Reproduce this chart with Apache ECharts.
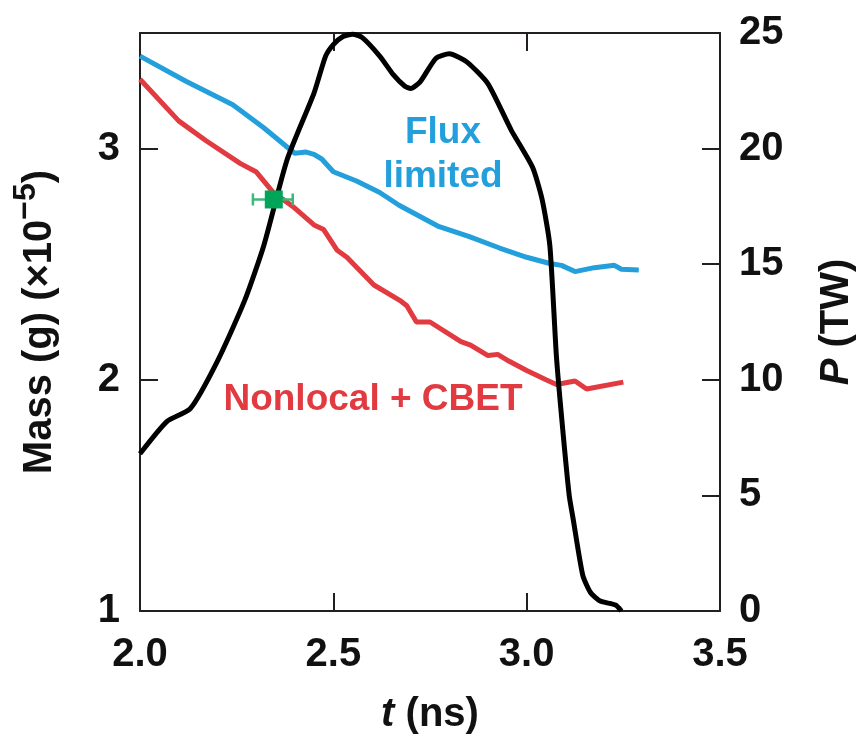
<!DOCTYPE html>
<html>
<head>
<meta charset="utf-8">
<script src="https://cdn.jsdelivr.net/npm/echarts@6/dist/echarts.min.js"></script>
<style>html,body{margin:0;padding:0;background:#fff;}#c{width:865px;height:740px;}</style>
</head>
<body>
<div id="c"></div>
<script>
// Time axis ticks (ns)
const xTicks = [2.0, 2.5, 3.0, 3.5];
// Mass (g) x1e-5 — Flux limited
const fluxLimited = [[2.0,3.40],[2.12,3.29],[2.24,3.19],[2.32,3.09],[2.40,2.98],[2.43,2.985],[2.45,2.975],[2.47,2.955],[2.50,2.90],[2.56,2.86],[2.62,2.81],[2.67,2.755],[2.77,2.665],[2.85,2.62],[2.93,2.57],[3.00,2.53],[3.06,2.503],[3.09,2.495],[3.125,2.468],[3.175,2.485],[3.227,2.495],[3.245,2.478],[3.29,2.475]];
// Mass (g) x1e-5 — Nonlocal + CBET
const nonlocalCBET = [[2.0,3.30],[2.10,3.12],[2.17,3.035],[2.26,2.935],[2.30,2.90],[2.345,2.81],[2.395,2.75],[2.45,2.67],[2.475,2.65],[2.51,2.56],[2.535,2.53],[2.605,2.41],[2.675,2.34],[2.69,2.32],[2.715,2.25],[2.75,2.25],[2.83,2.165],[2.855,2.15],[2.90,2.105],[2.925,2.11],[2.955,2.08],[3.00,2.04],[3.05,2.0],[3.077,1.98],[3.125,1.995],[3.155,1.96],[3.25,1.99]];
// Laser power P (TW)
const power = [[2.0,6.8],[2.07,8.2],[2.13,8.75],[2.2,10.8],[2.27,13.4],[2.32,15.8],[2.38,19.5],[2.45,22.4],[2.48,24.0],[2.50,24.5],[2.525,24.85],[2.55,24.95],[2.575,24.8],[2.62,24.0],[2.655,23.2],[2.685,22.7],[2.70,22.6],[2.725,22.9],[2.765,23.9],[2.80,24.1],[2.845,23.75],[2.90,22.8],[2.96,20.8],[3.015,19.2],[3.04,17.8],[3.06,15.8],[3.077,11.0],[3.093,7.9],[3.11,5.0],[3.12,4.0],[3.145,1.55],[3.165,0.8],[3.19,0.43],[3.23,0.26],[3.245,0]];
// Measured point: [t, mass, tLow, tHigh]
const measured = [[2.346, 2.78, 2.292, 2.395]];

const FONT = 'Liberation Sans';
const AX = '#231f20';
const FS = 40;
const chart = echarts.init(document.getElementById('c'));
const axisLine = {show:true, lineStyle:{color:AX, width:2}};
const ticks = {show:true, inside:true, length:18, lineStyle:{color:AX, width:2}};
chart.setOption({
  animation:false,
  grid:{left:140, right:144, top:33, bottom:127},
  xAxis:[{
    type:'value', min:2.0, max:3.5, interval:0.5, position:'bottom',
    axisLine, axisTick:ticks, splitLine:{show:false},
    axisLabel:{fontFamily:FONT, fontWeight:'bold', fontSize:FS, color:'#111', margin:24,
      formatter:v=>v.toFixed(1)},
    name:'{i|t}{n| (ns)}', nameLocation:'middle', nameGap:84,
    nameTextStyle:{rich:{
      i:{fontFamily:FONT, fontWeight:'bold', fontStyle:'italic', fontSize:FS, color:'#111'},
      n:{fontFamily:FONT, fontWeight:'bold', fontSize:FS, color:'#111'}}}
  },{
    type:'value', min:2.0, max:3.5, interval:0.5, position:'top',
    axisLine, axisTick:ticks, axisLabel:{show:false}, splitLine:{show:false}
  }],
  yAxis:[{
    type:'value', min:1, max:3.5, interval:1, position:'left',
    axisLine, axisTick:ticks, splitLine:{show:false},
    axisLabel:{fontFamily:FONT, fontWeight:'bold', fontSize:FS, color:'#111', margin:20,
      formatter:v=>Number.isInteger(v)?String(v):''},
    name:'{n|Mass (g) (×10}{s|−5}{n|)}', nameLocation:'middle', nameGap:80, nameRotate:90,
    nameTextStyle:{rich:{
      n:{fontFamily:FONT, fontWeight:'bold', fontSize:FS, color:'#111', lineHeight:50, verticalAlign:'bottom'},
      s:{fontFamily:FONT, fontWeight:'bold', fontSize:32, color:'#111', lineHeight:50, verticalAlign:'top'}}}
  },{
    type:'value', min:0, max:25, interval:5, position:'right',
    axisLine, axisTick:ticks, splitLine:{show:false},
    axisLabel:{fontFamily:FONT, fontWeight:'bold', fontSize:FS, color:'#111', margin:19},
    name:'{i|P}{n| (TW)}', nameLocation:'middle', nameGap:97, nameRotate:90,
    nameTextStyle:{rich:{
      i:{fontFamily:FONT, fontWeight:'bold', fontStyle:'italic', fontSize:FS, color:'#111'},
      n:{fontFamily:FONT, fontWeight:'bold', fontSize:FS, color:'#111'}}}
  }],
  series:[
    {type:'line', data:fluxLimited, xAxisIndex:0, yAxisIndex:0, showSymbol:false,
      lineStyle:{color:'#23a0db', width:5}, z:2},
    {type:'line', data:nonlocalCBET, xAxisIndex:0, yAxisIndex:0, showSymbol:false,
      lineStyle:{color:'#e13b41', width:5}, z:2},
    {type:'line', data:power, xAxisIndex:0, yAxisIndex:1, showSymbol:false, smooth:0.2,
      lineStyle:{color:'#000', width:5}, z:3},
    {type:'custom', data:measured, xAxisIndex:0, yAxisIndex:0, z:4,
      encode:{x:[0,2,3], y:1},
      renderItem:function(params, api){
        const y = api.value(1);
        const lo = api.coord([api.value(2), y]);
        const hi = api.coord([api.value(3), y]);
        const st = {stroke:'#3cb878', lineWidth:2.5};
        return {type:'group', children:[
          {type:'line', shape:{x1:lo[0], y1:lo[1], x2:hi[0], y2:hi[1]}, style:st},
          {type:'line', shape:{x1:lo[0], y1:lo[1]-6, x2:lo[0], y2:lo[1]+6}, style:st},
          {type:'line', shape:{x1:hi[0], y1:hi[1]-6, x2:hi[0], y2:hi[1]+6}, style:st}
        ]};
      }},
    {type:'scatter', data:measured.map(d=>[d[0], d[1]]), xAxisIndex:0, yAxisIndex:0,
      symbol:'rect', symbolSize:18, itemStyle:{color:'#00a55a', opacity:1}, z:5}
  ],
  graphic:[
    {type:'text', style:{text:'Flux\nlimited', x:443, y:155, align:'center', verticalAlign:'middle',
      font:'bold 37px "Liberation Sans"', fill:'#23a0db', lineHeight:44}},
    {type:'text', style:{text:'Nonlocal + CBET', x:373, y:400, align:'center', verticalAlign:'middle',
      font:'bold 37px "Liberation Sans"', fill:'#e13b41'}}
  ]
});
</script>
</body>
</html>
